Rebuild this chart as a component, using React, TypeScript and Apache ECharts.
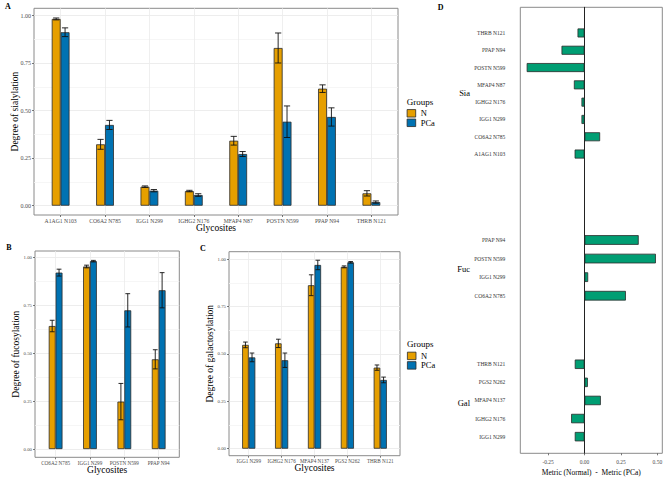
import React, { useEffect, useRef } from "react";
import * as echarts from "echarts";

// ---------- data ----------
const sialSites = ["A1AG1 N103", "CO6A2 N785", "IGG1 N299", "IGHG2 N176", "MFAP4 N87", "POSTN N599", "PPAP N94", "THRB N121"];
const sialN = [0.983, 0.323, 0.1, 0.077, 0.342, 0.83, 0.616, 0.065];
const sialNErr = [0.005, 0.026, 0.004, 0.004, 0.023, 0.079, 0.02, 0.014];
const sialPCa = [0.913, 0.425, 0.079, 0.056, 0.272, 0.442, 0.467, 0.019];
const sialPCaErr = [0.023, 0.024, 0.006, 0.007, 0.013, 0.083, 0.048, 0.006];

const fucSites = ["CO6A2 N785", "IGG1 N299", "POSTN N599", "PPAP N94"];
const fucN = [0.643, 0.954, 0.248, 0.469];
const fucNErr = [0.03, 0.007, 0.095, 0.05];
const fucPCa = [0.922, 0.982, 0.725, 0.83];
const fucPCaErr = [0.018, 0.004, 0.087, 0.092];

const galSites = ["IGG1 N299", "IGHG2 N176", "MFAP4 N137", "PGS2 N262", "THRB N121"];
const galN = [0.548, 0.556, 0.863, 0.96, 0.428];
const galNErr = [0.015, 0.022, 0.055, 0.005, 0.014];
const galPCa = [0.482, 0.467, 0.97, 0.984, 0.363];
const galPCaErr = [0.023, 0.038, 0.025, 0.004, 0.015];

// panel D: metric difference per glycosite, grouped by glycosylation trait
const diffSia = [-0.068, 0.107, -0.021, -0.021, -0.073, -0.397, -0.158, -0.048];
const diffFuc = [0.284, 0.025, 0.49, 0.372];
const diffGal = [-0.067, -0.092, 0.112, 0.023, -0.067];

const groupNames = ["N", "PCa"];
const yTickValues = [0, 0.25, 0.5, 0.75, 1];
const yTickLabels = ["0.00", "0.25", "0.50", "0.75", "1.00"];
const dTickValues = [-0.25, 0, 0.25, 0.5];
const dTickLabels = ["-0.25", "0.00", "0.25", "0.50"];

// ---------- style ----------
const SERIF = "Liberation Serif";
const COL_N = "#E69F00";
const COL_PCA = "#0072B2";
const COL_DIFF = "#009E73";
const BORDER = "#8a8a8a";
const TICK_TXT = "#4d4d4d";

function errRenderer(offset: number) {
  return (params: any, api: any) => {
    const i = api.value(0);
    const lo = api.value(1);
    const hi = api.value(2);
    const band = api.size([1, 0])[0];
    const pLo = api.coord([i, lo]);
    const pHi = api.coord([i, hi]);
    const x = pLo[0] + offset * band;
    const cap = band * 0.07;
    const style = { stroke: "#111", lineWidth: 0.9, fill: "none" };
    return {
      type: "group",
      children: [
        { type: "line", shape: { x1: x, y1: pLo[1], x2: x, y2: pHi[1] }, style },
        { type: "line", shape: { x1: x - cap, y1: pLo[1], x2: x + cap, y2: pLo[1] }, style },
        { type: "line", shape: { x1: x - cap, y1: pHi[1], x2: x + cap, y2: pHi[1] }, style },
      ],
    };
  };
}

function errData(means: number[], errs: number[]) {
  return means.map((m, i) => [i, m - errs[i], m + errs[i]]);
}

const tickFmt = (vals: number[], labels: string[]) => (v: number) => {
  const k = vals.findIndex((t) => Math.abs(t - v) < 1e-6);
  return k >= 0 ? labels[k] : "";
};

export default function App() {
  const ref = useRef<HTMLDivElement>(null);

  useEffect(() => {
    if (!ref.current) return;
    const chart = echarts.init(ref.current, undefined, { renderer: "svg" });

    const grids: any[] = [];
    const xAxes: any[] = [];
    const yAxes: any[] = [];
    const series: any[] = [];
    const manualTicks: { axis: number; x: number; font: number }[] = [];

    const panels = [
      { sites: sialSites, n: sialN, nE: sialNErr, p: sialPCa, pE: sialPCaErr, left: 34, top: 8.3, width: 364, height: 206.7, yMin: -0.049, yMax: 1.039, yName: "Degree of sialylation", xFont: 5.7, yFont: 6, manual: false },
      { sites: fucSites, n: fucN, nE: fucNErr, p: fucPCa, pE: fucPCaErr, left: 35, top: 251, width: 144.3, height: 206.3, yMin: -0.043, yMax: 1.035, yName: "Degree of fucosylation", xFont: 5.2, yFont: 4.8, manual: true },
      { sites: galSites, n: galN, nE: galNErr, p: galPCa, pE: galPCaErr, left: 229, top: 251.7, width: 171, height: 204, yMin: -0.037, yMax: 1.04, yName: "Degree of galactosylation", xFont: 5.2, yFont: 4.8, manual: true },
    ];

    panels.forEach((pn) => {
      const nCat = pn.sites.length;
      const inset = (pn.width * 0.1) / (nCat - 1 + 1.2);
      const gFrame = grids.length;
      grids.push({ left: pn.left, top: pn.top, width: pn.width, height: pn.height, show: true, borderColor: BORDER, borderWidth: 1, backgroundColor: "#fff", containLabel: false, outerBoundsMode: "none" });
      const gData = grids.length;
      grids.push({ left: pn.left + inset, top: pn.top, width: pn.width - 2 * inset, height: pn.height, show: false, containLabel: false, outerBoundsMode: "none" });

      xAxes.push({
        type: "value", gridIndex: gFrame, min: 0.4, max: nCat + 0.6, position: "bottom",
        axisLine: { show: false, onZero: false }, axisLabel: { show: false },
        axisTick: { show: false, customValues: pn.sites.map((_, i) => i + 1) },
        splitLine: { show: true, lineStyle: { color: "#ebebeb", width: 0.8 } },
      });
      const xData = xAxes.length;
      xAxes.push({
        type: "category", gridIndex: gData, data: pn.sites, boundaryGap: true, position: "bottom",
        axisLine: { show: false, onZero: false },
        axisTick: { show: true, alignWithLabel: true, length: 2, lineStyle: { color: "#555", width: 0.8 } },
        axisLabel: { interval: 0, hideOverlap: false, fontSize: pn.xFont, color: TICK_TXT, fontFamily: SERIF, margin: 3 },
        splitLine: { show: false },
        name: "Glycosites", nameLocation: "middle", nameGap: 7.5, nameMoveOverlap: false,
        nameTextStyle: { fontSize: 9.5, fontFamily: SERIF, color: "#000" },
      });

      const yFrame = yAxes.length;
      yAxes.push({
        type: "value", gridIndex: gFrame, min: pn.yMin, max: pn.yMax, position: "left",
        minInterval: 0.25, maxInterval: 0.25,
        axisLine: { show: false, onZero: false },
        axisTick: { show: true, length: 2, customValues: yTickValues, lineStyle: { color: "#555", width: 0.8 } },
        axisLabel: pn.manual
          ? { show: false }
          : { show: true, margin: 3, customValues: yTickValues, fontSize: pn.yFont, color: TICK_TXT, fontFamily: SERIF, formatter: tickFmt(yTickValues, yTickLabels) },
        splitLine: { show: true, lineStyle: { color: "#e8e8e8", width: 0.8 } },
        minorTick: { show: false, splitNumber: 2 },
        minorSplitLine: { show: true, lineStyle: { color: "#f4f4f4", width: 0.8 } },
        name: pn.yName, nameLocation: "middle", nameGap: 14, nameMoveOverlap: false,
        nameTextStyle: { fontSize: 9.5, fontFamily: SERIF, color: "#000" },
      });
      if (pn.manual) manualTicks.push({ axis: yFrame, x: pn.left - 3, font: pn.yFont });

      const yData = yAxes.length;
      yAxes.push({
        type: "value", gridIndex: gData, min: pn.yMin, max: pn.yMax, position: "left", show: false,
        axisLine: { show: false, onZero: false }, axisTick: { show: false }, splitLine: { show: false },
        axisLabel: { show: false },
      });

      const barStyle = (c: string) => ({ color: c, borderColor: "#2b2b2b", borderWidth: 0.8 });
      series.push({ type: "bar", name: groupNames[0], xAxisIndex: xData, yAxisIndex: yData, data: pn.n, barWidth: "20%", barGap: "0%", itemStyle: barStyle(COL_N), z: 2 });
      series.push({ type: "bar", name: groupNames[1], xAxisIndex: xData, yAxisIndex: yData, data: pn.p, barWidth: "20%", barGap: "0%", itemStyle: barStyle(COL_PCA), z: 2 });
      series.push({ type: "custom", name: "errN", xAxisIndex: xData, yAxisIndex: yData, data: errData(pn.n, pn.nE), encode: { x: 0, y: [1, 2] }, renderItem: errRenderer(-0.1), z: 3 });
      series.push({ type: "custom", name: "errPCa", xAxisIndex: xData, yAxisIndex: yData, data: errData(pn.p, pn.pE), encode: { x: 0, y: [1, 2] }, renderItem: errRenderer(0.1), z: 3 });
    });

    // ---------- panel D ----------
    const dLeft = 520.3, dWidth = 142, dTop = 7.3, dHeight = 446;
    const dMin = -0.441, dMax = 0.534;
    const gD = grids.length;
    grids.push({ left: dLeft, top: dTop, width: dWidth, height: dHeight, show: true, borderColor: BORDER, borderWidth: 1, backgroundColor: "#fff", containLabel: false, outerBoundsMode: "none" });
    xAxes.push({
      type: "value", gridIndex: gD, min: dMin, max: dMax, position: "bottom",
      axisLine: { show: false, onZero: false },
      axisTick: { show: true, length: 2, customValues: dTickValues, lineStyle: { color: "#555", width: 0.8 } },
      axisLabel: {
        customValues: dTickValues, fontSize: 5.5, color: TICK_TXT, fontFamily: SERIF, margin: 6,
        formatter: tickFmt(dTickValues, dTickLabels),
      },
      splitLine: { show: false },
      name: "Metric (Normal)  -  Metric (PCa)", nameLocation: "middle", nameGap: 15, nameMoveOverlap: false,
      nameTextStyle: { fontSize: 7.5, fontFamily: SERIF, color: "#000" },
    });
    yAxes.push({
      type: "value", gridIndex: gD, min: 0, max: 1,
      axisLine: { show: true, onZero: true, lineStyle: { color: "#222", width: 1 } },
      axisTick: { show: false }, axisLabel: { show: false }, splitLine: { show: false },
    });

    const facets = [
      { sites: sialSites, vals: diffSia, top: 24.3, height: 138.4 },
      { sites: fucSites, vals: diffFuc, top: 230.7, height: 74.3 },
      { sites: galSites, vals: diffGal, top: 355.2, height: 90.5 },
    ];
    facets.forEach((f) => {
      const g = grids.length;
      grids.push({ left: dLeft, top: f.top, width: dWidth, height: f.height, show: false, containLabel: false, outerBoundsMode: "none" });
      const xi = xAxes.length;
      xAxes.push({ type: "value", gridIndex: g, min: dMin, max: dMax, show: false, axisLine: { onZero: false }, splitLine: { show: false } });
      const yi = yAxes.length;
      yAxes.push({
        type: "category", gridIndex: g, data: f.sites, boundaryGap: true, position: "left",
        axisLine: { show: false, onZero: false }, axisTick: { show: false }, splitLine: { show: false },
        axisLabel: { interval: 0, fontSize: 5.5, color: "#333", fontFamily: SERIF, margin: 15 },
      });
      series.push({
        type: "bar", name: "diff", xAxisIndex: xi, yAxisIndex: yi, data: f.vals, barWidth: "52%",
        itemStyle: { color: COL_DIFF, borderColor: "#2b2b2b", borderWidth: 0.8 }, z: 2,
      });
    });

    const legendBase = {
      data: groupNames, orient: "vertical", icon: "rect",
      itemWidth: 8.6, itemHeight: 7.5, itemGap: 0.5,
      textStyle: { fontSize: 8.5, fontFamily: SERIF, color: "#000", lineHeight: 9, fontWeight: "normal" },
      itemStyle: { borderColor: "#2b2b2b", borderWidth: 0.8 },
      padding: 0, selectedMode: false,
    };

    const textEl = (text: string, x: number, y: number, size: number, bold = false, align = "center", fill = "#000") => ({
      type: "text", x, y, silent: true,
      style: {
        text, x: 0, y: 0, fontSize: size, fontFamily: SERIF, fontWeight: bold ? "bold" : "normal",
        fill, textAlign: align, textVerticalAlign: "middle", align, verticalAlign: "middle",
      },
    });

    const baseGraphic = [
      textEl("A", 8, 6.5, 8, true),
      textEl("B", 9, 247.5, 8, true),
      textEl("C", 203, 248.5, 8, true),
      textEl("D", 440.7, 7.3, 8, true),
      textEl("Groups", 406.7, 101.7, 9, false, "left"),
      textEl("Groups", 407, 344, 9, false, "left"),
      textEl("Sia", 470, 93, 8.5, false, "right"),
      textEl("Fuc", 470, 269, 8.5, false, "right"),
      textEl("Gal", 470, 403, 8.5, false, "right"),
    ];

    chart.setOption({
      animation: false,
      backgroundColor: "#fff",
      grid: grids,
      xAxis: xAxes,
      yAxis: yAxes,
      series,
      legend: [
        { ...legendBase, left: 406.7, top: 108.8 },
        { ...legendBase, left: 407, top: 351.4 },
      ],
      graphic: baseGraphic,
    });

    // y tick labels of panels B and C, placed through the axis scale
    const tickTexts: any[] = [];
    manualTicks.forEach((mt) => {
      yTickValues.forEach((v, k) => {
        const py = chart.convertToPixel({ yAxisIndex: mt.axis } as any, v) as unknown as number;
        if (typeof py === "number" && isFinite(py)) {
          tickTexts.push(textEl(yTickLabels[k], mt.x, py, mt.font, false, "right", TICK_TXT));
        }
      });
    });
    chart.setOption({ graphic: [...baseGraphic, ...tickTexts] });

    return () => chart.dispose();
  }, []);

  return <div ref={ref} style={{ position: "fixed", left: 0, top: 0, width: 669, height: 479 }} />;
}
